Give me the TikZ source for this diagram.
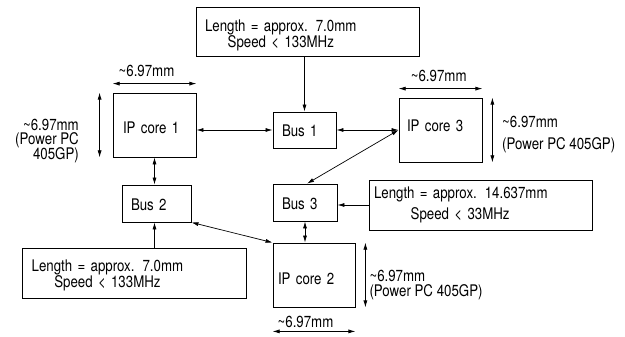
\documentclass[tikz,border=0pt]{standalone}
\usepackage{fontspec}
\setmainfont{TeX Gyre Heros}[FakeStretch=0.83]
\usepackage{tikz}
\usetikzlibrary{arrows.meta, positioning}
\newcommand\diafont{\fontsize{16}{13.3}\selectfont\lineskiplimit=-100pt}

\begin{document}
\begin{tikzpicture}[
    x=1pt, y=-1pt,
    box/.style={draw, rectangle, line width=0.8pt, inner sep=0pt, align=left, font=\diafont},
    corebox/.style={box, text width=63pt, inner xsep=10pt, minimum height=64pt, text height=18pt, text depth=0pt},
    busbox/.style={box, text width=45pt, inner xsep=9pt, minimum height=37pt, text height=14pt, text depth=0pt},
    lenbox/.style={box, minimum height=50pt},
    dimlabel/.style={inner sep=0pt, font=\diafont},
    arrow/.style={->, >={Latex[length=7pt,width=4pt]}, line width=0.7pt},
    both/.style={<->, >={Latex[length=7pt,width=4pt]}, line width=0.7pt}
]
    \useasboundingbox (0,0) rectangle (625,337);

    % buses and wire boxes
    \node (len1) [lenbox, text width=205pt, inner xsep=9pt, minimum height=49pt] at (307.5,31.5) {\rule{0pt}{19.2pt}Length = approx. 7.0mm\\[2.6pt]\hspace*{22.7pt}Speed < 133MHz};
    \node (bus1) [busbox, minimum height=36pt] at (304.5,130) {Bus 1};
    \node (bus2) [busbox, text width=51pt] at (156.5,203.5) {Bus 2};
    \node (bus3) [busbox, text width=46pt] at (305,202.5) {Bus 3};
    \node (len2) [lenbox, text width=204.6pt, inner xsep=9.7pt] at (134,273) {\rule{0pt}{17.3pt}Length = approx. 7.0mm\\[2.7pt]\hspace*{22.6pt}Speed < 133MHz};
    \node (len3) [lenbox, text width=213pt, inner xsep=5pt] at (480.5,205) {Length = approx. 14.637mm\\[8.3pt]\hspace*{36.7pt}Speed < 33MHz};

    % cores
    \node (ip1) [corebox] at (154.5,125) {IP core 1};
    \node (ip3) [corebox, inner xsep=8pt, text width=67pt, text height=11.5pt, text depth=8pt] at (440.5,130) {IP core 3};
    \node (ip2) [corebox, inner xsep=5pt, text width=72pt] at (314,275) {IP core 2};

    % sizes
    \draw [both] ([yshift=9pt]ip1.north west) -- ([yshift=9pt]ip1.north east);
    \node (w1) [dimlabel] at (146.5,71) {\textasciitilde6.97mm};
    \draw [both] ([xshift=-13pt]ip1.north west) -- ([xshift=-13pt]ip1.south west);
    \node (h1) [dimlabel, align=right, anchor=east] at (79,141) {\textasciitilde6.97mm\\[1.2pt](Power PC\\[1.2pt]405GP)};

    \draw [both] ([yshift=9pt]ip3.north west) -- ([yshift=9pt]ip3.north east);
    \node (w3) [dimlabel] at (438.7,76) {\textasciitilde6.97mm};
    \draw [both] ([xshift=10pt]ip3.north east) -- ([xshift=10pt]ip3.south east);
    \node (h3) [dimlabel, align=left, anchor=west] at (502,134.7) {\textasciitilde6.97mm\\[8.7pt](Power PC 405GP)};

    \draw [both] ([yshift=-24pt]ip2.south west) -- ([yshift=-24pt]ip2.south east);
    \node (w2) [dimlabel] at (305.5,321.5) {\textasciitilde6.97mm};
    \draw [both] ([xshift=10pt]ip2.north east) -- ([xshift=10pt]ip2.south east);
    \node (h2) [dimlabel, align=left, anchor=west] at (369.3,285) {\textasciitilde6.97mm\\[1.7pt](Power PC 405GP)};

    % links
    \path [arrow] (bus1.north |- len1.south) edge (bus1.north);
    \path [both] (ip1.east |- bus1.west) edge (bus1.west);
    \path [both] (bus1.east) edge (bus1.east -| ip3.west);
    \path [both] ([xshift=2pt]bus3.north) edge (ip3.west);
    \path [both] (ip1.south) edge (ip1.south |- bus2.north);
    \path [arrow] (ip1.south |- len2.north) edge (ip1.south |- bus2.south);
    \path [both] (bus2.south east) edge (ip2.north west);
    \path [both] (bus3.south) edge (bus3.south |- ip2.north);
    \path [arrow] (len3.west) edge (len3.west -| bus3.east);
\end{tikzpicture}
\end{document}
